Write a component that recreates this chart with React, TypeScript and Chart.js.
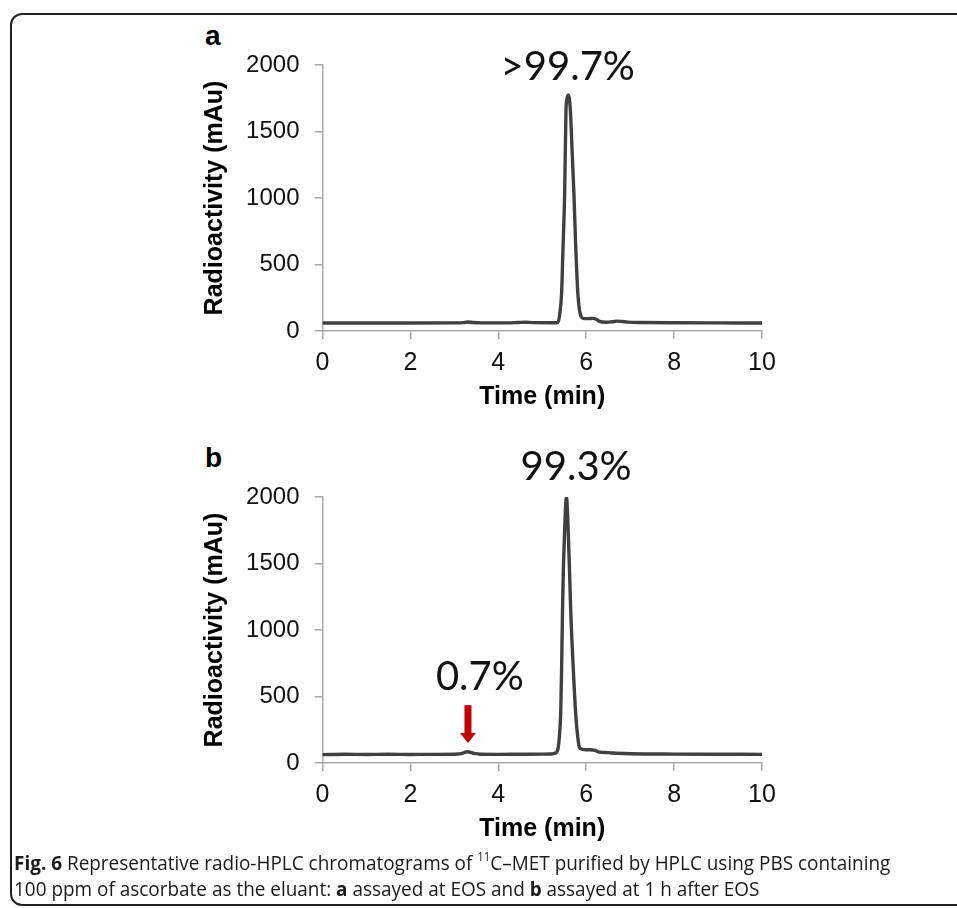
import React, { useEffect, useLayoutEffect, useRef } from 'react';
import { Chart, registerables } from 'chart.js';
Chart.register(...registerables);

// ---- data ----
const timeA = [0, 1, 2, 3, 3.2, 3.3, 3.42, 3.6, 4.2, 4.45, 4.6, 4.8, 5.2, 5.36, 5.4, 5.44, 5.47, 5.51, 5.54, 5.56, 5.59, 5.62, 5.64, 5.68, 5.72, 5.76, 5.81, 5.85, 5.89, 5.95, 6.05, 6.15, 6.23, 6.3, 6.45, 6.6, 6.7, 6.8, 6.95, 7.3, 8, 9, 10];
const signalA = [60, 60, 60, 61, 63, 68, 64, 61, 61, 64, 66, 63, 62, 64, 133, 282, 600, 1035, 1660, 1740, 1775, 1740, 1660, 1350, 1035, 650, 282, 150, 105, 93, 93, 95, 88, 72, 66, 70, 74, 72, 67, 64, 62, 61, 60];

const timeB = [0, 0.5, 1, 1.5, 2, 2.5, 3, 3.15, 3.3, 3.45, 3.6, 4, 4.5, 5, 5.2, 5.3, 5.36, 5.39, 5.42, 5.44, 5.46, 5.48, 5.51, 5.53, 5.55, 5.57, 5.59, 5.62, 5.65, 5.7, 5.76, 5.8, 5.84, 5.9, 6.0, 6.1, 6.2, 6.3, 6.5, 6.6, 7, 8, 9, 10];
const signalB = [63, 66, 64, 66, 64, 65, 66, 70, 85, 72, 66, 65, 66, 67, 68, 75, 110, 200, 373, 700, 1124, 1450, 1750, 1920, 2000, 1920, 1750, 1450, 1124, 750, 373, 220, 122, 105, 100, 100, 95, 82, 78, 75, 70, 67, 66, 65];

const xTicks = [0, 2, 4, 6, 8, 10];
const yTicks = [0, 500, 1000, 1500, 2000];

const notesA = [{ text: '>99.7%', t: 5.58, v: 1885 }];
const notesB = [
  { text: '99.3%', t: 5.77, v: 2125 },
  { text: '0.7%', t: 3.58, v: 548 },
];
const arrowsB = [{ t: 3.31, from: 435, to: 150 }];

const AXIS_GRAY = '#a9a9a9';
const LINE = '#404040';
const Y_TICK_FONT = { family: '"Liberation Sans", Arial, sans-serif', size: 24 };
const X_TICK_FONT = { family: '"Liberation Sans", Arial, sans-serif', size: 25 };
const TITLE_FONT = { family: '"Liberation Sans", Arial, sans-serif', size: 25, weight: 'bold' as const };

type Note = { text: string; t: number; v: number };
type Arrow = { t: number; from: number; to: number };

function makeAnnot(notes: Note[], arrows: Arrow[]) {
  return {
    id: 'annot',
    afterDatasetsDraw(chart: any) {
      const { ctx, scales } = chart;
      const xs = scales.x;
      const ys = scales.y;
      ctx.save();
      ctx.fillStyle = '#111';
      ctx.font = '40px Lato, "Open Sans", sans-serif';
      ctx.textAlign = 'center';
      ctx.textBaseline = 'alphabetic';
      for (const n of notes) {
        ctx.fillText(n.text, xs.getPixelForValue(n.t), ys.getPixelForValue(n.v));
      }
      for (const a of arrows) {
        const x = xs.getPixelForValue(a.t);
        const y0 = ys.getPixelForValue(a.from);
        const y1 = ys.getPixelForValue(a.to);
        const head = 10;
        ctx.fillStyle = '#c00000';
        ctx.fillRect(x - 3.5, y0, 7, y1 - y0 - head + 1);
        ctx.beginPath();
        ctx.moveTo(x - 8, y1 - head);
        ctx.lineTo(x + 8, y1 - head);
        ctx.lineTo(x, y1);
        ctx.closePath();
        ctx.fill();
      }
      ctx.restore();
    },
  };
}

type PanelProps = {
  time: number[];
  signal: number[];
  notes: Note[];
  arrows: Arrow[];
  top: number;
  height: number;
  plotTop: number;
  xAxisHeight: number;
};

const CANVAS_LEFT = 160;
const CANVAS_W = 640;
const PLOT_LEFT = 322.5;
const PLOT_RIGHT = 762;

function Panel({ time, signal, notes, arrows, top, height, plotTop, xAxisHeight }: PanelProps) {
  const ref = useRef<HTMLCanvasElement | null>(null);
  useEffect(() => {
    if (!ref.current) return;
    const data = time.map((t, i) => ({ x: t, y: signal[i] }));
    const chart = new Chart(ref.current, {
      type: 'line',
      data: {
        datasets: [
          {
            data,
            borderColor: LINE,
            borderWidth: 3.4,
            pointRadius: 0,
            cubicInterpolationMode: 'monotone',
            fill: false,
          },
        ],
      },
      options: {
        animation: false,
        responsive: false,
        devicePixelRatio: 1,
        layout: { padding: { top: plotTop - top, right: CANVAS_LEFT + CANVAS_W - PLOT_RIGHT, left: 0, bottom: 0 } },
        plugins: { legend: { display: false }, tooltip: { enabled: false } },
        scales: {
          x: {
            type: 'linear',
            min: 0,
            max: 10,
            afterFit: (s: any) => { s.height = xAxisHeight; },
            afterBuildTicks: (s: any) => { s.ticks = xTicks.map((v) => ({ value: v })); },
            grid: { drawOnChartArea: false, drawTicks: true, tickLength: 8, color: AXIS_GRAY, lineWidth: 1.5 },
            border: { color: AXIS_GRAY, width: 1.5 },
            ticks: { font: X_TICK_FONT, color: '#111', padding: 9, maxRotation: 0, callback: (v: any) => String(v) },
            title: { display: true, text: 'Time (min)', font: TITLE_FONT, color: '#000', padding: { top: 0, bottom: 8 } },
          },
          y: {
            type: 'linear',
            min: 0,
            max: 2000,
            afterFit: (s: any) => { s.width = PLOT_LEFT - CANVAS_LEFT; },
            afterBuildTicks: (s: any) => { s.ticks = yTicks.map((v) => ({ value: v })); },
            grid: { drawOnChartArea: false, drawTicks: true, tickLength: 8, color: AXIS_GRAY, lineWidth: 1.5 },
            border: { color: AXIS_GRAY, width: 1.5 },
            ticks: { font: Y_TICK_FONT, color: '#111', padding: 15, callback: (v: any) => String(v) },
            title: { display: true, text: 'Radioactivity (mAu)', font: TITLE_FONT, color: '#000', padding: { top: 40, bottom: 0 } },
          },
        },
      },
      plugins: [makeAnnot(notes, arrows)],
    } as any);
    return () => chart.destroy();
  }, []);
  return (
    <canvas
      ref={ref}
      width={CANVAS_W}
      height={height}
      style={{ position: 'absolute', left: CANVAS_LEFT, top, width: CANVAS_W, height }}
    />
  );
}

const letterStyle: React.CSSProperties = {
  position: 'absolute',
  left: 205,
  fontFamily: '"Liberation Sans", Arial, sans-serif',
  fontWeight: 'bold',
  fontSize: 28,
  lineHeight: '1',
  color: '#000',
};

export default function App() {
  const l1 = useRef<HTMLDivElement | null>(null);
  const l2 = useRef<HTMLDivElement | null>(null);
  useLayoutEffect(() => {
    if (!l1.current || !l2.current) return;
    const w = l1.current.offsetWidth;
    const k = (890 - 14) / w;
    l1.current.style.transform = `scaleX(${k})`;
    l2.current.style.transform = `scaleX(${k})`;
  }, []);
  const capStyle: React.CSSProperties = {
    position: 'absolute',
    left: 14,
    fontFamily: '"Open Sans", sans-serif',
    fontSize: 20,
    lineHeight: '1',
    whiteSpace: 'nowrap',
    color: '#1a1a1a',
    transformOrigin: 'left top',
  };
  return (
    <div style={{ position: 'fixed', left: 0, top: 0, width: 957, height: 908, background: '#fff', overflow: 'hidden' }}>
      <div
        style={{
          position: 'absolute',
          left: 10,
          top: 13,
          width: 980,
          height: 893,
          border: '2px solid #222',
          borderRadius: 12,
          boxSizing: 'border-box',
        }}
      />
      <div style={{ ...letterStyle, top: 22 }}>a</div>
      <div style={{ ...letterStyle, top: 444 }}>b</div>
      <Panel time={timeA} signal={signalA} notes={notesA} arrows={[]} top={20} height={400} plotTop={65} xAxisHeight={89} />
      <Panel time={timeB} signal={signalB} notes={notesB} arrows={arrowsB} top={450} height={402} plotTop={497} xAxisHeight={89} />
      <div ref={l1} style={{ ...capStyle, top: 853 }}>
        <b>Fig. 6</b> Representative radio-HPLC chromatograms of <sup style={{ fontSize: 12, verticalAlign: 'baseline', position: 'relative', top: -9 }}>11</sup>C–MET purified by HPLC using PBS containing
      </div>
      <div ref={l2} style={{ ...capStyle, top: 879 }}>
        100 ppm of ascorbate as the eluant: <b>a</b> assayed at EOS and <b>b</b> assayed at 1 h after EOS
      </div>
    </div>
  );
}
